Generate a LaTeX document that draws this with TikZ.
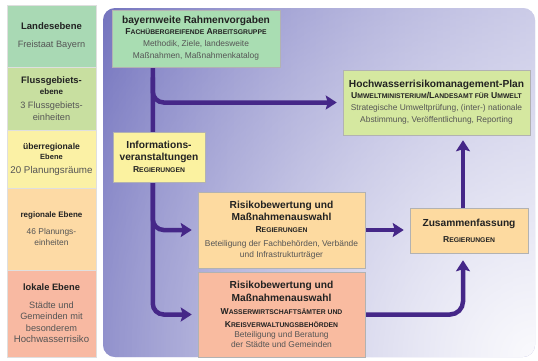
\documentclass[tikz,border=0pt]{standalone}
\usepackage{fontspec}
\setmainfont{Liberation Sans}
\usepackage{tikz}
\usetikzlibrary{arrows.meta,backgrounds,fadings}
\definecolor{hwBgD}{HTML}{6464B7}
\definecolor{hwBgR}{HTML}{A8A8D8}
\definecolor{hwBgL}{HTML}{FAFAFD}
\definecolor{hwArr}{HTML}{452788}
\definecolor{hwLand}{HTML}{A9D9B4}
\definecolor{hwFluss}{HTML}{C8DFA0}
\definecolor{hwUeber}{HTML}{FBF1A5}
\definecolor{hwReg}{HTML}{FDDAA5}
\definecolor{hwLok}{HTML}{F8B9A2}
\definecolor{hwMint}{HTML}{A9DDB2}
\definecolor{hwLime}{HTML}{D5E8A0}
\definecolor{hwGelb}{HTML}{FBF2A0}
\definecolor{hwPfir}{HTML}{FDDAA0}
\definecolor{hwLachs}{HTML}{F9BBA0}
\definecolor{hwTxtD}{HTML}{222222}
\definecolor{hwTxtG}{HTML}{555555}
\tikzfading[name=hwGlow,inner color=transparent!0,outer color=transparent!100]
\newcommand{\ttl}[1]{{\fontsize{10.2}{12}\selectfont\bfseries\color{hwTxtD}#1}}
\newcommand{\lttl}[2][8]{{\fontsize{#1}{10}\selectfont\bfseries\color{hwTxtD}#2}}
\newcommand{\kap}[1]{{\fontsize{6.8}{8}\selectfont\MakeUppercase{#1}}}
\newcommand{\amt}[1]{{\fontsize{8.6}{10}\selectfont\bfseries\color{hwTxtD}#1}}

\begin{document}
\begin{tikzpicture}[x=1pt,y=-1pt,
  lvl/.style={draw=white!75!gray,line width=0.4pt,minimum width=89pt,
              inner sep=2pt,align=center,text=hwTxtG,
              font=\fontsize{9.2}{11.5}\selectfont},
  box/.style={draw=black!30,line width=0.5pt,inner sep=2pt,align=center,
              text=hwTxtG,font=\fontsize{8.4}{12}\selectfont},
  arr/.style={-{Stealth[length=11pt,width=14pt,inset=2pt]},hwArr,
              line width=4.5pt,rounded corners=11pt}]
  \useasboundingbox (0,0) rectangle (538,360);

  % Ebenen links
  \node[lvl,fill=hwLand,minimum height=62pt]  (land)  at (51.5,36)
    {\lttl[9.5]{Landesebene}\\[7pt] Freistaat Bayern};
  \node[lvl,fill=hwFluss,minimum height=63pt] (fluss) at (51.5,98.5)
    {\lttl[9.4]{Flussgebiets-}\\[-1pt] \lttl[8]{ebene}\\[3pt] 3 Flussgebiets-\\ einheiten};
  \node[lvl,fill=hwUeber,minimum height=58pt] (ueber) at (51.5,159)
    {\lttl[8.6]{überregionale}\\[-1pt] \lttl[7.5]{Ebene}\\[2pt] {\fontsize{9.8}{11}\selectfont 20 Planungsräume}};
  \node[lvl,fill=hwReg,minimum height=82pt]   (reg)   at (51.5,229)
    {\lttl[8]{regionale Ebene}\\[5pt] {\fontsize{8.4}{10}\selectfont 46 Planungs-}\\
     {\fontsize{8.4}{10}\selectfont einheiten}};
  \node[lvl,fill=hwLok,minimum height=87pt]   (lok)   at (51.5,313.5)
    {\lttl[9.3]{lokale Ebene}\\[6pt] Städte und\\ Gemeinden mit\\ besonderem\\
     {\fontsize{9.6}{11}\selectfont Hochwasserrisiko}};

  % Kaesten
  \node[box,fill=hwMint,minimum width=168pt,minimum height=57pt] (rahmen) at (196,38.5)
    {\ttl{bayernweite Rahmenvorgaben}\\[-1pt] \amt{F\kap{achübergreifende} A\kap{rbeitsgruppe}}\\
     Methodik, Ziele, landesweite\\ Maßnahmen, Maßnahmenkatalog};
  \node[box,fill=hwLime,minimum width=187pt,minimum height=65pt] (hwrm) at (436.5,102.5)
    {\ttl{Hochwasserrisikomanagement-Plan}\\[-1pt] \amt{U\kap{mweltministerium}/L\kap{andesamt für} U\kap{mwelt}}\\
     Strategische Umweltprüfung, (inter-) nationale\\ Abstimmung, Veröffentlichung, Reporting};
  \node[box,fill=hwPfir,minimum width=167pt,minimum height=76pt] (risA) at (281.5,230)
    {\ttl{Risikobewertung und}\\ \ttl{Maßnahmenauswahl}\\ \amt{R\kap{egierungen}}\\[2pt]
     Beteiligung der Fachbehörden, Verbände\\[-1.5pt] und Infrastrukturträger};
  \node[box,fill=hwLachs,minimum width=167pt,minimum height=85pt] (risB) at (281.5,314.5)
    {\ttl{Risikobewertung und}\\[1pt] \ttl{Maßnahmenauswahl}\\[1pt] \amt{W\kap{asserwirtschaftsämter und}}\\[1pt]
     \amt{K\kap{reisverwaltungsbehörden}}\\[-2pt] Beteiligung und Beratung\\[-2pt] der Städte und Gemeinden};
  \node[box,fill=hwPfir,minimum width=118pt,minimum height=45pt] (zus) at (469,230.5)
    {\ttl{Zusammenfassung}\\[4pt] \amt{R\kap{egierungen}}};
  \coordinate (stamm) at ([xshift=41pt]rahmen.south west);
  \coordinate (zusN) at ([xshift=-6pt]zus.north);
  \coordinate (zusS) at ([xshift=-6pt,yshift=-7pt]zus.south);

  \begin{scope}[on background layer]
    \shade[rounded corners=12pt,left color=hwBgD,right color=hwBgR]
      (103,8) rectangle (535,357);
    \begin{scope}
      \clip[rounded corners=12pt] (103,8) rectangle (535,357);
      \fill[hwBgL,path fading=hwGlow] (535,357) circle (620pt);
    \end{scope}
    \draw[arr,shorten >=6pt] (stamm) |- (risB.west);
    \draw[arr,shorten >=6pt] ([yshift=-100pt]stamm) |- (risA.west);
    \draw[arr,shorten >=6pt] ([yshift=-10pt]stamm) |- (hwrm.west);
    \draw[arr,shorten >=6pt] (risA.east) -- (risA.east -| zus.west);
    \draw[arr,rounded corners=13pt] (risB.east) -| (zusS);
    \draw[arr,shorten >=5pt] (zusN) -- (zusN |- hwrm.south);
  \end{scope}

  \node[box,fill=hwGelb,minimum width=92pt,minimum height=50pt] (info) at (159,157)
    {\ttl{Informations-}\\ \ttl{veranstaltungen}\\ \amt{R\kap{egierungen}}};
\end{tikzpicture}
\end{document}
